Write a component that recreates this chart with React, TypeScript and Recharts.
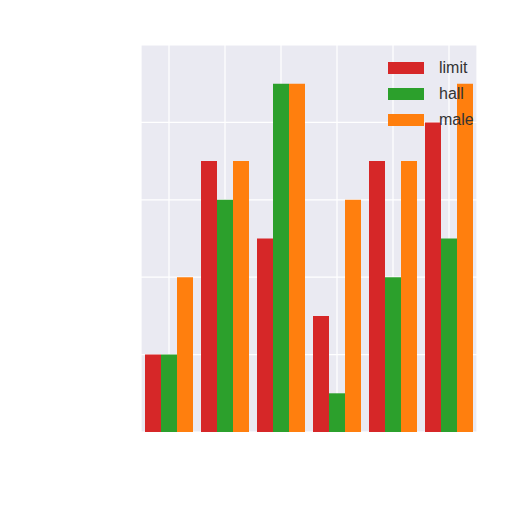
import { BarChart, Bar, XAxis, YAxis, CartesianGrid } from 'recharts';

const categories = ['A', 'B', 'C', 'D', 'E', 'F'];
const limitValues = [1.0, 3.5, 2.5, 1.5, 3.5, 4.0];
const hallValues = [1.0, 3.0, 4.5, 0.5, 2.0, 2.5];
const maleValues = [2.0, 3.5, 4.5, 3.0, 3.5, 4.5];
const yTicks = [0, 1, 2, 3, 4, 5];

const series = [
  { key: 'limit', color: '#d62728' },
  { key: 'hall', color: '#2ca02c' },
  { key: 'male', color: '#ff7f0e' },
];

const data = categories.map((name, i) => ({
  name,
  limit: limitValues[i],
  hall: hallValues[i],
  male: maleValues[i],
}));

// legend without a frame, drawn over the plot
function LegendBox() {
  return (
    <div style={{ position: 'absolute', left: 388, top: 55, fontFamily: '"Liberation Sans", Arial, sans-serif' }}>
      {series.map(s => (
        <div key={s.key} style={{ display: 'flex', alignItems: 'center', height: 26 }}>
          <span style={{ width: 36, height: 12, background: s.color, display: 'inline-block' }} />
          <span style={{ marginLeft: 15, fontSize: 16, color: '#333' }}>{s.key}</span>
        </div>
      ))}
    </div>
  );
}

export default function App() {
  return (
    <div style={{ position: 'fixed', left: 0, top: 0, width: 512, height: 512, background: '#fff' }}>
      <BarChart
        width={512}
        height={512}
        data={data}
        margin={{ top: 45, right: 35, bottom: 80, left: 141 }}
        barCategoryGap={4}
        barGap={0}
      >
        <CartesianGrid fill="#EAEAF2" stroke="#ffffff" strokeWidth={1.2} />
        <XAxis dataKey="name" hide />
        <YAxis hide domain={[0, 5]} ticks={yTicks} />
        {series.map(s => (
          <Bar key={s.key} dataKey={s.key} fill={s.color} isAnimationActive={false} />
        ))}
      </BarChart>
      <LegendBox />
    </div>
  );
}
